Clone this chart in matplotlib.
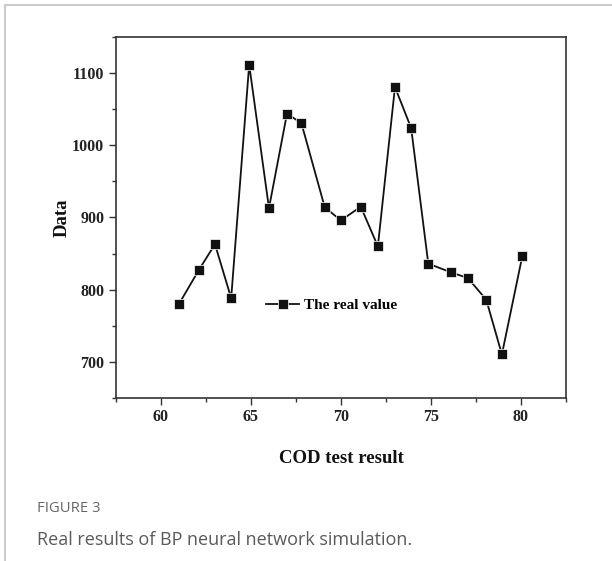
import matplotlib
matplotlib.use("Agg")
import matplotlib.pyplot as plt
from matplotlib.lines import Line2D
from matplotlib.ticker import MultipleLocator

# COD test result (x) and real value (y)
cod = [61.0, 62.1, 63.0, 63.9, 64.9, 66.0, 67.0, 67.8, 69.1, 70.0,
       71.1, 72.05, 73.0, 73.9, 74.85, 76.1, 77.05, 78.07, 78.94, 80.07]
real_value = [780, 827, 863, 788, 1112, 913, 1044, 1031, 914, 896,
              915, 860, 1081, 1024, 836, 824, 816, 786, 710, 846]

x_ticks = [60, 65, 70, 75, 80]
y_ticks = [700, 800, 900, 1000, 1100]

serif = ["Liberation Serif", "DejaVu Serif"]

fig = plt.figure(figsize=(6.12, 5.61), dpi=100)
ax = fig.add_axes([0.1895, 0.2911, 0.7353, 0.6424])

ax.plot(cod, real_value, color="#111111", lw=1.3, marker="s", ms=7,
        mfc="#111111", mec="#ffffff", mew=0.5, label="The real value")

ax.set_xlim(57.5, 82.5)
ax.set_ylim(650, 1150)
ax.set_xticks(x_ticks)
ax.set_yticks(y_ticks)
ax.xaxis.set_minor_locator(MultipleLocator(2.5))
ax.yaxis.set_minor_locator(MultipleLocator(50))
ax.tick_params(which="both", direction="out", top=False, right=False,
               color="#333333", width=1.0)
ax.tick_params(which="major", length=5)
ax.tick_params(which="minor", length=3)

for lab in ax.get_xticklabels() + ax.get_yticklabels():
    lab.set_family(serif)
    lab.set_fontweight("bold")
    lab.set_fontsize(11.5)
    lab.set_color("#222222")

for sp in ax.spines.values():
    sp.set_color("#333333")
    sp.set_linewidth(1.2)

ax.set_xlabel("COD test result", family=serif, fontweight="bold",
              fontsize=13.5, color="#111111", labelpad=18)
ax.set_ylabel("Data", family=serif, fontweight="bold", fontsize=13.5,
              color="#111111", labelpad=1)

leg = ax.legend(loc="center left", bbox_to_anchor=(0.333, 0.256),
                frameon=False, borderpad=0, borderaxespad=0,
                handlelength=2.2, handletextpad=0.3,
                prop={"family": serif, "weight": "bold", "size": 11})

# caption
fig.text(0.0605, 1 - 509 / 561, "FIGURE 3", family="Open Sans",
         fontsize=10.7, color="#666666", va="center")
fig.text(0.0605, 1 - 540 / 561, "Real results of BP neural network simulation.",
         family="Open Sans", fontsize=13, color="#5a5a5a", va="center")

# light panel border (top and left)
fig.add_artist(Line2D([4.5 / 612, 1], [1 - 5.3 / 561, 1 - 5.3 / 561],
                      transform=fig.transFigure, color="#cccccc", lw=1.5))
fig.add_artist(Line2D([4.5 / 612, 4.5 / 612], [0, 1 - 5.3 / 561],
                      transform=fig.transFigure, color="#cccccc", lw=1.5))

fig.savefig("out.png", dpi=100)
